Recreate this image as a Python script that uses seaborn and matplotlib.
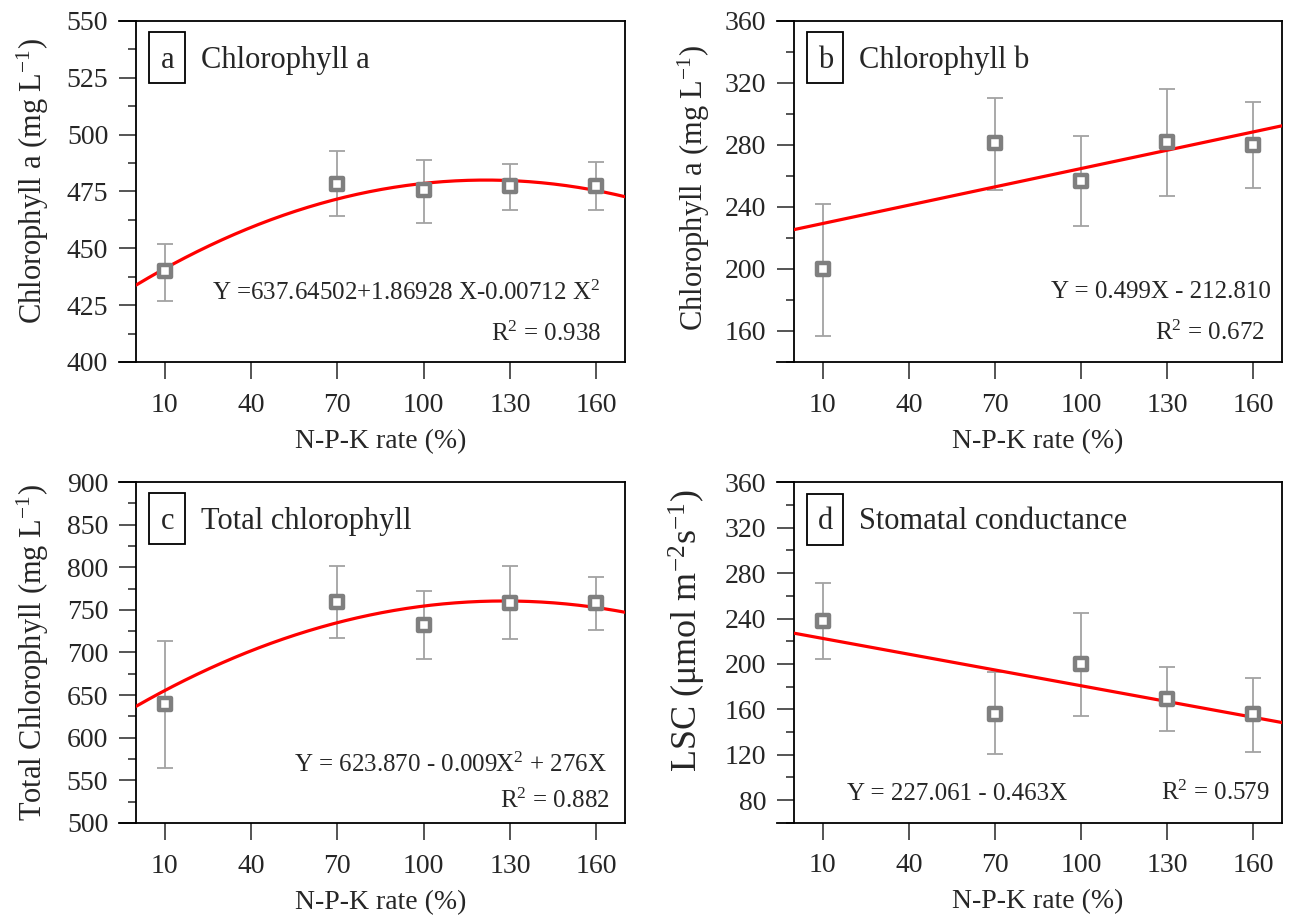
import numpy as np
import pandas as pd
import matplotlib
matplotlib.use("Agg")
import matplotlib.pyplot as plt
import seaborn as sns
from matplotlib.patches import Rectangle
from matplotlib.ticker import MultipleLocator

# N-P-K rate (%)
rate = [10, 70, 100, 130, 160]

chl_a = [440, 478.5, 475.5, 477.3, 477.6]
chl_a_hi = [452, 493, 489, 487, 488]
chl_a_lo = [427, 464, 461, 467, 467]

chl_b = [200, 281, 257, 282, 280]
chl_b_hi = [242, 310, 286, 316, 308]
chl_b_lo = [157, 251, 228, 247, 252]

chl_tot = [640, 759, 732, 758, 758]
chl_tot_hi = [713, 801, 772, 801, 789]
chl_tot_lo = [565, 717, 692, 716, 726]

lsc = [238, 156, 200, 169.5, 155.5]
lsc_hi = [271, 193, 245, 197, 188]
lsc_lo = [204, 121, 154, 141, 122]

# trend curves as drawn in the figure: c0 + c1*x + c2*x^2
fit_a = [433.8, 0.7602, -0.003126]
fit_b = [225.4, 0.394]
fit_tot = [636.8, 1.9303, -0.007535]
fit_lsc = [227.1, -0.4633]

sns.set_style("ticks")
plt.rcParams["font.family"] = ["Liberation Serif", "DejaVu Serif"]
plt.rcParams["mathtext.fontset"] = "custom"
plt.rcParams["mathtext.rm"] = "Liberation Serif"
plt.rcParams["mathtext.it"] = "Liberation Serif:italic"
plt.rcParams["mathtext.bf"] = "Liberation Serif:bold"

fig = plt.figure(figsize=(12.89, 9.19), dpi=100)

XMAX = 170


def draw_panel(rect, y, hi, lo, fit, ylim, major, minor, ylabel, ylabel_size, ylabel_xy,
               tag, title, eq, eq_xy, eq_ha, r2, r2_xy):
    ax = fig.add_axes(rect)
    df = pd.DataFrame({"rate": rate, "value": y})
    xs = np.linspace(0, XMAX, 200)
    ys = np.polyval(fit[::-1], xs)
    ax.errorbar(rate, y, yerr=[np.subtract(y, lo), np.subtract(hi, y)], fmt="none",
                ecolor="#a3a3a3", elinewidth=1.3, capsize=6, capthick=1.3, zorder=2)
    sns.lineplot(x=xs, y=ys, color="#ff0000", lw=2.3, ax=ax, zorder=3)
    sns.scatterplot(data=df, x="rate", y="value", marker="s", s=85, facecolor="white",
                    edgecolor="#7f7f7f", linewidth=3.2, ax=ax, zorder=4)

    ax.set_xlim(0, XMAX)
    ax.set_ylim(*ylim)
    ax.set_xticks(range(10, 161, 30))
    ax.yaxis.set_major_locator(MultipleLocator(major))
    ax.yaxis.set_minor_locator(MultipleLocator(minor))
    ax.tick_params(axis="y", which="major", length=12, width=1.1, labelsize=20, pad=8)
    ax.tick_params(axis="y", which="minor", length=6, width=1.1)
    ax.tick_params(axis="x", which="major", length=12, width=1.1, labelsize=20, pad=10)
    for s in ax.spines.values():
        s.set_visible(True)
        s.set_linewidth(1.3)
        s.set_color("black")
    # top and bottom frame lines reach past the left axis
    ext = 17 / (rect[2] * 1289) * XMAX
    ax.spines["bottom"].set_bounds(-ext, XMAX)
    ax.spines["top"].set_bounds(-ext, XMAX)

    ax.set_xlabel("N-P-K rate (%)", fontsize=20, labelpad=8)
    ax.set_ylabel(ylabel, fontsize=ylabel_size)
    ax.yaxis.set_label_coords(ylabel_xy[0], ylabel_xy[1])

    ax.add_patch(Rectangle((0.027, 0.817), 0.074, 0.15, transform=ax.transAxes,
                           fill=False, lw=1.3, ec="black", clip_on=False))
    ax.text(0.064, 0.862, tag, transform=ax.transAxes, fontsize=22, ha="center", va="baseline")
    ax.text(0.133, 0.862, title, transform=ax.transAxes, fontsize=22, ha="left", va="baseline")
    ax.text(eq_xy[0], eq_xy[1], eq, transform=ax.transAxes, fontsize=18, ha=eq_ha, va="baseline")
    ax.text(r2_xy[0], r2_xy[1], r2, transform=ax.transAxes, fontsize=18, ha="right", va="baseline")
    return ax


draw_panel([0.1055, 0.6061, 0.3794, 0.3711], chl_a, chl_a_hi, chl_a_lo, fit_a,
           (400, 550), 25, 12.5, "Chlorophyll a (mg L$^{-1}$)", 22, (-0.174, 0.53),
           "a", "Chlorophyll a", "Y =637.64502+1.86928 X-0.00712 X$^{2}$", (0.949, 0.182), "right",
           "R$^{2}$ = 0.938", (0.951, 0.061))

draw_panel([0.616, 0.6061, 0.3786, 0.3711], chl_b, chl_b_hi, chl_b_lo, fit_b,
           (140, 360), 40, 20, "Chlorophyll a (mg L$^{-1}$)", 22, (-0.168, 0.51),
           "b", "Chlorophyll b", "Y = 0.499X - 212.810", (0.977, 0.189), "right",
           "R$^{2}$ = 0.672", (0.963, 0.065))

draw_panel([0.1055, 0.1045, 0.3794, 0.371], chl_tot, chl_tot_hi, chl_tot_lo, fit_tot,
           (500, 900), 50, 25, "Total Chlorophyll (mg L$^{-1}$)", 22, (-0.174, 0.5),
           "c", "Total chlorophyll", "Y = 623.870 - 0.009X$^{2}$ + 276X", (0.963, 0.149), "right",
           "R$^{2}$ = 0.882", (0.969, 0.043))

draw_panel([0.616, 0.1047, 0.3786, 0.3704], lsc, lsc_hi, lsc_lo, fit_lsc,
           (60, 360), 40, 20, "LSC (μmol m$^{-2}$s$^{-1}$)", 26, (-0.176, 0.565),
           "d", "Stomatal conductance", "Y = 227.061 - 0.463X", (0.108, 0.067), "left",
           "R$^{2}$ = 0.579", (0.975, 0.067))

fig.savefig("out.png", dpi=100)
